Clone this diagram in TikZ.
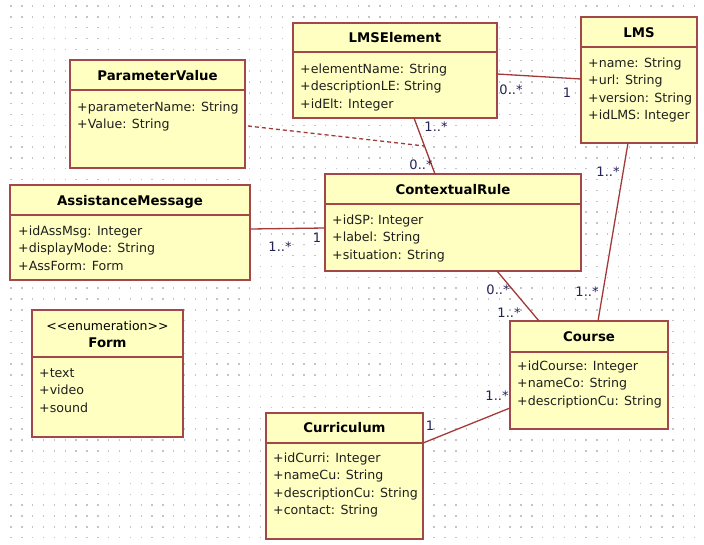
\documentclass[tikz,border=0pt]{standalone}
\usepackage{fontspec}
\setmainfont{DejaVu Sans}
\usetikzlibrary{calc}
\definecolor{boxfill}{HTML}{FFFFC2}
\definecolor{boxline}{HTML}{A3484A}
\definecolor{conline}{HTML}{A33A3A}
\definecolor{multc}{HTML}{23235A}
\definecolor{gridc}{HTML}{C4C4C4}
\newcommand\umlattrs[4]{\foreach \attrtext [count=\i] in {#4} {\node[attr] (#1-\i) at (#2,{#3+(\i-1)*17.5}) {\attrtext};}}
\newcommand\umlhead[2]{\draw[boxline, line width=1.4pt] ($(#1.north west)+(0,#2)$) -- ($(#1.north east)+(0,#2)$);}
\begin{document}
\begin{tikzpicture}[x=1pt, y=-1pt,
  cls/.style={draw=boxline, fill=boxfill, line width=1.4pt, anchor=north west, inner sep=0pt, outer sep=0pt},
  title/.style={anchor=base, font=\fontsize{13.3}{15}\selectfont\bfseries, inner sep=0pt},
  stereo/.style={anchor=base, font=\fontsize{12.5}{14}\selectfont, inner sep=0pt},
  attr/.style={anchor=base west, font=\fontsize{12.6}{14}\selectfont, inner sep=0pt, text=black!88},
  mult/.style={font=\fontsize{13}{15}\selectfont, text=multc, inner sep=0pt},
  assoc/.style={draw=conline, line width=1.3pt},
  assocdash/.style={draw=conline, line width=1.3pt, dash pattern=on 4pt off 3pt}]
\useasboundingbox (0,0) rectangle (704,544);
\fill[white] (0,0) rectangle (704,544);
% dotted grid
\foreach \j in {0,...,49} {
  \draw[gridc, line width=1.4pt, dash pattern=on 1.4pt off 9.45pt] (10.3,{6+\j*10.85}) -- (704,{6+\j*10.85});
}
% classes
\node[cls, minimum width=175pt, minimum height=108pt] (pv) at (70,60) {};
\umlhead{pv}{30}
\node[title] (pvt) at (157.5,80) {ParameterValue};
\umlattrs{pva}{77}{111}{+parameterName: String,+Value: String}

\node[cls, minimum width=204pt, minimum height=95pt] (lmse) at (293,23) {};
\umlhead{lmse}{29}
\node[title] (lmset) at (395,42) {LMSElement};
\umlattrs{lmsea}{300}{73}{+elementName: String,+descriptionLE: String,+idElt: Integer}

\node[cls, minimum width=116pt, minimum height=126pt] (lms) at (581,17) {};
\umlhead{lms}{30}
\node[title] (lmst) at (639,37) {LMS};
\umlattrs{lmsa}{588}{67}{+name: String,+url: String,+version: String,+idLMS: Integer}

\node[cls, minimum width=240pt, minimum height=95pt] (am) at (10,185) {};
\umlhead{am}{30}
\node[title] (amt) at (130,205) {AssistanceMessage};
\umlattrs{ama}{18}{235}{+idAssMsg: Integer,+displayMode: String,+AssForm: Form}

\node[cls, minimum width=256pt, minimum height=97pt] (cr) at (325,174) {};
\umlhead{cr}{30}
\node[title] (crt) at (453,194) {ContextualRule};
\umlattrs{cra}{332}{224}{+idSP: Integer,+label: String,+situation: String}

\node[cls, minimum width=151pt, minimum height=127pt] (form) at (32,310) {};
\umlhead{form}{47}
\node[stereo] (forms) at (107.5,330) {<\kern0pt<enumeration>\kern0pt>};
\node[title] (formt) at (107.5,347) {Form};
\umlattrs{forma}{39}{377}{+text,+video,+sound}

\node[cls, minimum width=158pt, minimum height=108pt] (course) at (510,321) {};
\umlhead{course}{31}
\node[title] (courset) at (589,341) {Course};
\umlattrs{coursea}{517}{370}{+idCourse: Integer,+nameCo: String,+descriptionCu: String}

\node[cls, minimum width=157pt, minimum height=126pt] (curr) at (266,413) {};
\umlhead{curr}{30}
\node[title] (currt) at (344.5,432) {Curriculum};
\umlattrs{curra}{273}{462}{+idCurri: Integer,+nameCu: String,+descriptionCu: String,+contact: String}

% associations
\draw[assoc] ($(lmse.north east)+(0,51)$) -- ($(lms.north west)+(0,62)$);
\draw[assoc] ($(lmse.south west)+(121,0)$) -- ($(cr.north west)+(110,0)$) coordinate[pos=0.5] (assocpt);
\draw[assocdash] ($(pv.north east)+(3,66)$) -- (assocpt);
\draw[assoc] ($(am.north east)+(0,44)$) -- ($(cr.north west)+(0,54)$);
\draw[assoc] ($(lms.south west)+(47,0)$) -- ($(course.north west)+(88,0)$);
\draw[assoc] ($(cr.south west)+(172,0)$) -- ($(course.north west)+(29,0)$);
\draw[assoc] ($(curr.north east)+(0,30)$) -- ($(course.south west)+(0,-21)$);

% multiplicities
\node[mult] (m1) at (511,90) {0..*};
\node[mult] (m2) at (567,93) {1};
\node[mult] (m3) at (436,127) {1..*};
\node[mult] (m4) at (421,165) {0..*};
\node[mult] (m5) at (280,247) {1..*};
\node[mult] (m6) at (317,238) {1};
\node[mult] (m7) at (608,172) {1..*};
\node[mult] (m8) at (587,292) {1..*};
\node[mult] (m9) at (498,290) {0..*};
\node[mult] (m10) at (509,313) {1..*};
\node[mult] (m11) at (430,426) {1};
\node[mult] (m12) at (497,396) {1..*};
\end{tikzpicture}
\end{document}
